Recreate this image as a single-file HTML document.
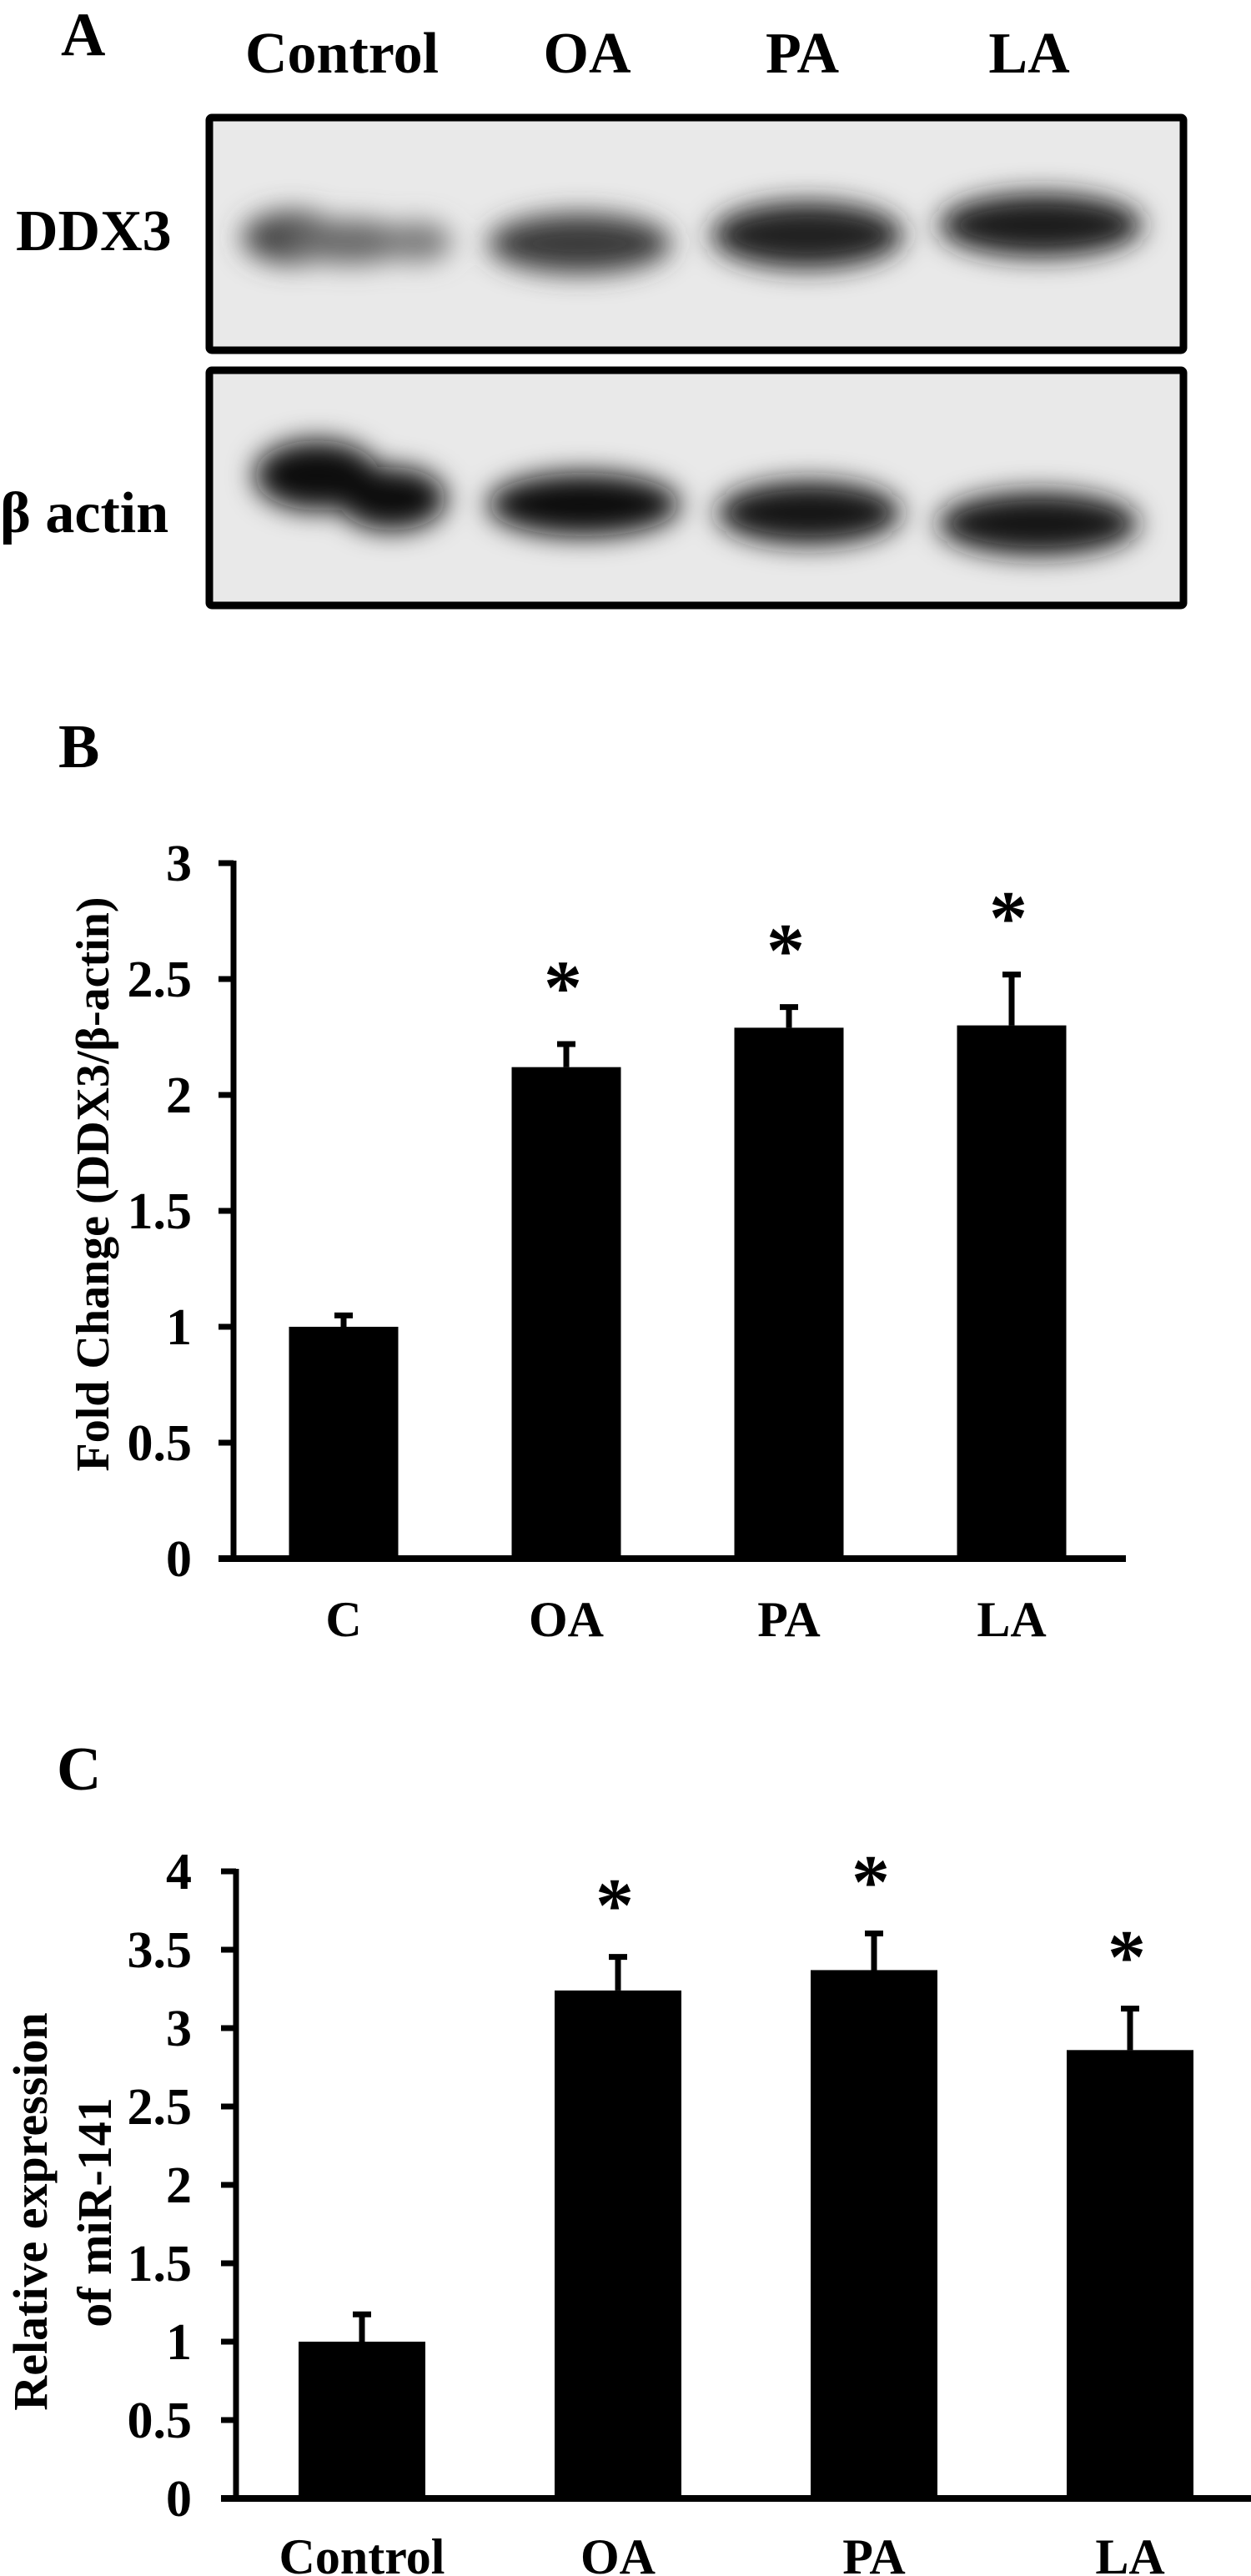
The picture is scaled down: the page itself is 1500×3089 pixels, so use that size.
<!DOCTYPE html>
<html><head><meta charset="utf-8"><title>DDX3 / miR-141 figure</title>
<style>
html,body{margin:0;padding:0;background:#fff;}
svg{display:block;}
text{font-family:"Liberation Serif",serif;font-weight:bold;fill:#000;}
</style></head>
<body>
<svg id="fig" width="1500" height="3089" viewBox="0 0 1500 3089" xmlns="http://www.w3.org/2000/svg">
<defs>
<filter id="blur1" x="-30%" y="-80%" width="160%" height="260%"><feGaussianBlur stdDeviation="16"/></filter>
</defs>
<!-- Panel A -->
<g>
<text x="73" y="66" font-size="74">A</text>
<text x="410" y="87" font-size="70" text-anchor="middle">Control</text>
<text x="704" y="87" font-size="70" text-anchor="middle">OA</text>
<text x="962" y="87" font-size="70" text-anchor="middle">PA</text>
<text x="1234" y="87" font-size="70" text-anchor="middle">LA</text>
<text x="19" y="300" font-size="70">DDX3</text>
<text x="0" y="638" font-size="70">β actin</text>

<g>
<rect x="251" y="141" width="1168" height="279" fill="#e9e9e9" stroke="#000" stroke-width="9" rx="3"/>
<g filter="url(#blur1)">
<ellipse cx="350" cy="285" rx="60" ry="32" fill="#4a4a4a"/>
<ellipse cx="420" cy="290" rx="75" ry="27" fill="#6a6a6a"/>
<ellipse cx="500" cy="290" rx="42" ry="24" fill="#7a7a7a"/>
<ellipse cx="695" cy="292" rx="110" ry="36" fill="#3a3a3a"/>
<ellipse cx="968" cy="282" rx="115" ry="40" fill="#222"/>
<ellipse cx="1248" cy="270" rx="122" ry="38" fill="#1e1e1e"/>
</g>
</g>
<g>
<rect x="251" y="444" width="1168" height="282" fill="#e9e9e9" stroke="#000" stroke-width="9" rx="3"/>
<g filter="url(#blur1)">
<ellipse cx="380" cy="570" rx="75" ry="42" fill="#080808"/>
<ellipse cx="470" cy="598" rx="65" ry="38" fill="#0a0a0a"/>
<ellipse cx="700" cy="605" rx="115" ry="38" fill="#111"/>
<ellipse cx="970" cy="615" rx="110" ry="38" fill="#151515"/>
<ellipse cx="1245" cy="628" rx="120" ry="38" fill="#141414"/>
</g>
</g>
</g>

<!-- Panel B -->
<g id="chartB">
<text x="70" y="920" font-size="74">B</text>
<text transform="translate(130,1420) rotate(-90)" font-size="56" text-anchor="middle">Fold Change (DDX3/β-actin)</text>
</g>

<!-- Panel C -->
<g id="chartC">
<text x="68" y="2146" font-size="74">C</text>
<text transform="translate(56,2652) rotate(-90)" font-size="58" text-anchor="middle">Relative expression</text>
<text transform="translate(133,2653) rotate(-90)" font-size="58" text-anchor="middle">of miR-141</text>
</g>
</svg>
<script>
const catsB = ["C", "OA", "PA", "LA"];
const valsB = [1.0, 2.12, 2.29, 2.30];
const errsB = [0.06, 0.11, 0.10, 0.23];
const sigB = [false, true, true, true];
const ticksB = ["0", "0.5", "1", "1.5", "2", "2.5", "3"];

const catsC = ["Control", "OA", "PA", "LA"];
const valsC = [1.0, 3.24, 3.37, 2.86];
const errsC = [0.19, 0.23, 0.25, 0.28];
const sigC = [false, true, true, true];
const ticksC = ["0", "0.5", "1", "1.5", "2", "2.5", "3", "3.5", "4"];

const NS = "http://www.w3.org/2000/svg";
function mk(parent, tag, attrs, txt) {
  const e = document.createElementNS(NS, tag);
  for (const k in attrs) e.setAttribute(k, attrs[k]);
  if (txt !== undefined) e.textContent = txt;
  parent.appendChild(e);
  return e;
}

function drawChart(g, cfg, cats, vals, errs, sig, ticks) {
  const yMax = parseFloat(ticks[ticks.length - 1]);
  const y = v => cfg.y0 - (v / yMax) * (cfg.y0 - cfg.yTop);
  const x = i => cfg.xFirst + i * cfg.step;
  const ax = mk(g, "line", {x1: cfg.axX, y1: y(yMax) - 3, x2: cfg.axX, y2: cfg.y0 + 3, stroke: "#000", "stroke-width": 7});
  
  
  ticks.forEach((t) => {
    const v = parseFloat(t);
    const tk = mk(g, "line", {x1: cfg.axX - 18, y1: y(v), x2: cfg.axX, y2: y(v), stroke: "#000", "stroke-width": 7});
    
    
    const tl = mk(g, "text", {x: cfg.labX, y: y(v) + 21, "font-size": 62, "text-anchor": "end"}, t);
    
    
  });
  cats.forEach((c, i) => {
    const cx = x(i);
    const bar = mk(g, "rect", {x: cx - cfg.bw / 2, y: y(vals[i]), width: cfg.bw, height: cfg.y0 - y(vals[i]), fill: "#000"});
    
    
    const eTop = y(vals[i] + errs[i]);
    const el = mk(g, "line", {x1: cx, y1: y(vals[i]), x2: cx, y2: eTop, stroke: "#000", "stroke-width": 7});
    
    
    const ec = mk(g, "line", {x1: cx - 11, y1: eTop + 3, x2: cx + 11, y2: eTop + 3, stroke: "#000", "stroke-width": 7});
    
    
    if (sig[i]) {
      const st = mk(g, "text", {x: cx - 4, y: eTop - cfg.astOff, "font-size": 92, "text-anchor": "middle"}, "*");
      
      
    }
    const xl = mk(g, "text", {x: cx, y: cfg.xLabY, "font-size": cfg.xFont, "text-anchor": "middle"}, c);
    
    
  });
  const bl = mk(g, "line", {x1: cfg.axX - 18, y1: cfg.y0, x2: cfg.xEnd, y2: cfg.y0, stroke: "#000", "stroke-width": 8});
  
  
}

drawChart(document.getElementById("chartB"),
  {y0: 1869, yTop: 1035, axX: 280, labX: 230, xFirst: 412, step: 267, bw: 131, xEnd: 1350, astOff: 34, xLabY: 1962, xFont: 60},
  catsB, valsB, errsB, sigB, ticksB);
drawChart(document.getElementById("chartC"),
  {y0: 2996, yTop: 2244, axX: 283, labX: 230, xFirst: 434, step: 307, bw: 152, xEnd: 1500, astOff: 28, xLabY: 3086, xFont: 60},
  catsC, valsC, errsC, sigC, ticksC);
</script>
</body></html>
